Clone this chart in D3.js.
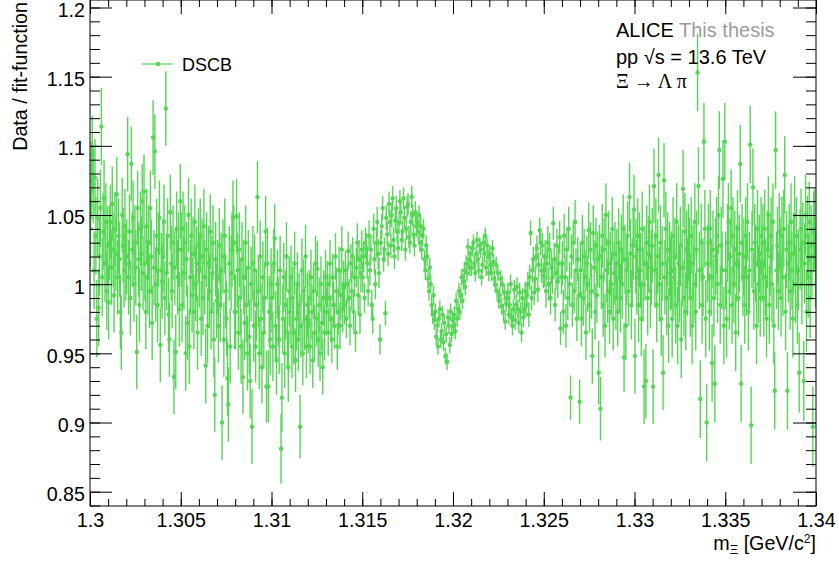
<!DOCTYPE html>
<html>
<head>
<meta charset="utf-8">
<script src="https://cdn.jsdelivr.net/npm/d3@7"></script>
<style>
  body { margin: 0; background: #fff; }
  text { font-family: "Liberation Sans", Arial, Helvetica, sans-serif; }
</style>
</head>
<body>
<svg id="chart" width="839" height="562"></svg>
<script>
// mass window of the ratio histogram
var massRange = [1.300, 1.340];

// data / fit ratio per bin, stored as (ratio - 1) in permille, one row = 1 MeV (20 bins)
var ratioPermille = [
  40, 75, 94, 72, 10, 77, 35, -25, 48, -17, 20, 55, 114, 5, 38, 62, 15, 45, -5, 28,
  -13, 30, 45, 12, 58, 25, -8, 40, 22, 65, 5, 35, 18, -20, -35, 50, 28, 10, 42, 15,
  20, 94, 5, 38, -10, 87, 25, 48, 0, 30, 12, -49, 55, 18, -15, 40, 22, 60, 8, 67,
  15, -20, 42, 5, 30, -5, 55, 20, -28, 106, 12, 96, 0, 35, -15, 25, 48, -44, 10, 2,
  20, 45, -10, 127, 8, 35, -22, -40, 52, 15, -5, 30, -67, 12, -49, 40, 5, 25, -18, 60,
  25, -15, 40, 8, 30, -50, 18, -28, 50, -45, 5, 35, -8, 22, -20, 45, 0, 15, -35, 28,
  10, 35, -25, 20, -10, 42, 5, -59, 25, -30, 15, -5, 38, -20, 8, 30, -40, -80, 18, -12,
  5, -30, 28, -15, 10, -100, 20, -40, 35, -5, -25, -68, -87, 15, -45, 8, 25, 48, 30, -20,
  -20, 49, 10, -35, 25, -10, -45, 18, -67, 5, -28, 30, -15, -50, 12, -38, -70, 0, -103, 15,
  -30, 10, -45, -15, 63, -5, -50, 20, -25, -60, 5, -35, -10, 38, -74, 15, -74, -20, -40, 0,
  -10, -45, 15, 33, -30, -55, 0, -20, -40, 10, -119, -82, -25, 5, -50, -15, 20, -35, -60, -5,
  -20, 5, -45, -10, -35, 15, -55, -25, 0, -40, -15, -103, -30, 10, -50, -5, -25, 20, -45, -15,
  -30, -10, -45, 5, -20, -55, -5, -35, 15, -25, 11, -40, -15, -50, 0, -28, -60, -10, -35, 5,
  -20, 0, -35, -10, 15, -25, -40, 5, -15, -30, 20, -5, -45, -20, 10, -30, -8, 25, -18, 0,
  -15, 10, -25, 0, 24, -10, -30, 15, -5, 20, -20, 5, -35, 12, 30, -8, 18, -22, 8, 25,
  5, 20, -10, 30, 26, 15, -5, 35, 10, 25, -15, -25, 40, 18, 0, 30, 45, 22, 8, -40,
  30, 42, 55, 18, 25, -21, 48, 36, 22, 58, 45, 28, 50, 62, 32, 20, 46, 55, 38, 26,
  44, 60, 52, 32, 38, 62, 48, 25, 40, 56, 58, 34, 30, 45, 63, 50, 36, 28, 52, 42,
  45, 38, 50, 30, 42, 25, 35, 40, 18, 10, 28, 20, 4, -5, 12, 0, -15, -22, -8, -26,
  -20, -38, -30, -45, -25, -18, -40, -34, -22, -42, -28, -52, -36, -56, -24, -30, -44, -20, -36, -26,
  -30, -22, -34, -12, -25, -18, -5, -20, -8, 5, -12, 2, 10, -2, 15, 8, 27, 18, 12, 22,
  12, 26, 30, 15, 8, 22, 32, 18, 10, 28, 25, 5, 14, 30, 22, 35, 12, 28, 20, 8,
  22, 14, 8, 26, 16, 4, 0, 14, -5, 8, -12, -8, 4, -16, 0, -20, -6, -27, -14, -10,
  -6, -22, -15, 0, -24, -30, -18, -4, -26, -15, -2, -18, -28, -6, -20, -35, -10, -24, -18, -5,
  -15, -8, 0, -22, 5, 37, -10, 10, 18, -6, 4, 20, 26, -4, 14, 39, 30, 10, 28, 6,
  10, 20, -5, 15, 30, 0, 25, -10, 12, 5, 44, 18, -15, 8, 28, 2, 15, 34, -32, 5,
  15, -20, 35, 5, -30, 25, -10, 40, 0, -82, 20, -15, 30, -5, 45, 10, -25, 18, -8, -85,
  10, -25, 30, -10, 20, 5, -35, 15, 0, 39, -15, 25, -5, -52, 37, 12, -20, 28, -8, 18,
  -64, 20, -90, 5, 35, -15, 25, -30, 50, 10, -5, 30, -20, 15, 0, 40, -25, 8, 22, -10,
  15, -20, 30, 5, -10, 25, 0, 40, -53, 18, -30, 10, 35, -5, 63, 22, -15, 8, 28, 54,
  -52, 20, 5, 35, -15, 25, 10, -25, 40, 0, -74, 15, -70, 30, -10, 22, 45, -5, 12, 28,
  -74, 71, 10, 35, -15, 20, 79, 0, 30, -25, 15, -64, 75, 5, 40, -10, 25, -30, 18, 8,
  10, -25, 35, 5, 20, -15, 45, -30, 15, 0, 28, -40, 12, 69, -10, 38, -20, 25, 5, 30,
  20, -10, 35, -30, 15, 0, 45, -20, 25, 153, 71, 10, -83, 30, -15, 5, 103, 40, -25, -100,
  15, 30, -20, 40, 5, -57, 25, -10, -72, 20, 35, 0, 50, 97, -15, 28, 10, 76, -30, 103,
  10, -25, 30, 45, -5, 20, 55, -15, 35, 0, 25, -35, 15, 40, -10, 22, 87, -72, 30, 5,
  20, -15, 35, 5, 45, -20, 10, 101, -102, 25, 70, -5, 30, 15, -30, 40, 0, 22, -10, 35,
  15, 30, -10, 40, 5, -25, 25, 50, -15, 20, 35, 0, 45, -30, -77, 97, 10, 28, -5, 38,
  20, -10, 35, 5, 40, 79, -20, 25, -77, 15, 30, -5, 45, 10, -25, 22, 50, 0, 35, -15,
  10, -64, 25, 40, 0, 30, -70, 15, 50, -20, 35, 5, 45, -10, 28, 20, -103, 38, 40, 12
];

// statistical error (permille) for each 1 MeV slice
var errorPermille = [28, 27, 27, 27, 27, 27, 27, 27, 27, 26, 25, 23, 20, 17, 14, 11, 9, 8, 7, 6,
                     6, 6, 6, 7, 9, 12, 16, 20, 23, 25, 27, 27, 28, 28, 28, 28, 28, 28, 28, 29];

var xTicks = [1.3, 1.305, 1.31, 1.315, 1.32, 1.325, 1.33, 1.335, 1.34];
var xTickLabels = ["1.3", "1.305", "1.31", "1.315", "1.32", "1.325", "1.33", "1.335", "1.34"];
var yTicks = [0.85, 0.9, 0.95, 1, 1.05, 1.1, 1.15, 1.2];
var yTickLabels = ["0.85", "0.9", "0.95", "1", "1.05", "1.1", "1.15", "1.2"];

var green = "#55d655";

var svg = d3.select("#chart");
svg.append("rect").attr("width", 839).attr("height", 562).attr("fill", "#fff");

var frame = {left: 90, right: 816, top: 0, bottom: 506};

var x = d3.scaleLinear().domain(massRange).range([frame.left, frame.right]);
var y = d3.scaleLinear().domain([0.85, 1.2]).range([491.7, 7.5]);

var nBins = ratioPermille.length;
var binW = (massRange[1] - massRange[0]) / nBins;
var perSlice = nBins / errorPermille.length;

var points = ratioPermille.map(function (d, i) {
    return {
        m: massRange[0] + (i + 0.5) * binW,
        v: 1 + d / 1000,
        e: errorPermille[Math.floor(i / perSlice)] / 1000
    };
});

svg.append("clipPath").attr("id", "clip")
    .append("rect")
    .attr("x", frame.left).attr("y", frame.top)
    .attr("width", frame.right - frame.left)
    .attr("height", frame.bottom - frame.top);

var plot = svg.append("g").attr("clip-path", "url(#clip)");

// error bars first, markers on top
plot.selectAll("line.err")
    .data(points)
    .enter().append("line")
    .attr("class", "err")
    .attr("x1", function (d) { return x(d.m); })
    .attr("x2", function (d) { return x(d.m); })
    .attr("y1", function (d) { return y(d.v - d.e); })
    .attr("y2", function (d) { return y(d.v + d.e); })
    .attr("stroke", green)
    .attr("stroke-width", 1.4);

plot.selectAll("circle")
    .data(points)
    .enter().append("circle")
    .attr("cx", function (d) { return x(d.m); })
    .attr("cy", function (d) { return y(d.v); })
    .attr("r", 2.2)
    .attr("fill", green);

/* axes */
var xMinor = d3.range(1.300, 1.3405, 0.001);
var yMinor = d3.range(0.84, 1.2055, 0.01);
var labelSize = "19.7px";

function styleAxis(g) {
    g.select(".domain").remove();
    g.selectAll("line").attr("stroke", "#000").attr("stroke-width", 1);
}

svg.append("g")
    .attr("transform", "translate(0," + frame.bottom + ")")
    .call(d3.axisBottom(x).tickValues(xMinor).tickSize(-7).tickFormat(""))
    .call(styleAxis);

svg.append("g")
    .attr("transform", "translate(0," + frame.bottom + ")")
    .call(d3.axisBottom(x).tickValues(xTicks).tickSizeInner(-14).tickSizeOuter(0).tickPadding(7)
        .tickFormat(function (d, i) { return xTickLabels[i]; }))
    .call(styleAxis)
    .selectAll("text")
    .attr("fill", "#000")
    .style("font-size", labelSize);

svg.append("g")
    .attr("transform", "translate(0," + frame.top + ")")
    .call(d3.axisTop(x).tickValues(xMinor).tickSize(-7).tickFormat(""))
    .call(styleAxis);

svg.append("g")
    .attr("transform", "translate(0," + frame.top + ")")
    .call(d3.axisTop(x).tickValues(xTicks).tickSize(-14).tickFormat(""))
    .call(styleAxis);

svg.append("g")
    .attr("transform", "translate(" + frame.left + ",0)")
    .call(d3.axisLeft(y).tickValues(yMinor.filter(function (v) { return y(v) <= frame.bottom; }))
        .tickSize(-10).tickFormat(""))
    .call(styleAxis);

svg.append("g")
    .attr("transform", "translate(" + frame.left + ",0)")
    .call(d3.axisLeft(y).tickValues(yTicks).tickSizeInner(-22).tickSizeOuter(0).tickPadding(5)
        .tickFormat(function (d, i) { return yTickLabels[i]; }))
    .call(styleAxis)
    .selectAll("text")
    .attr("fill", "#000")
    .attr("dy", "0.45em")
    .style("font-size", labelSize);

svg.append("g")
    .attr("transform", "translate(" + frame.right + ",0)")
    .call(d3.axisRight(y).tickValues(yMinor.filter(function (v) { return y(v) <= frame.bottom; }))
        .tickSize(-10).tickFormat(""))
    .call(styleAxis);

svg.append("g")
    .attr("transform", "translate(" + frame.right + ",0)")
    .call(d3.axisRight(y).tickValues(yTicks).tickSize(-23).tickFormat(""))
    .call(styleAxis);

svg.append("rect")
    .attr("x", frame.left).attr("y", frame.top)
    .attr("width", frame.right - frame.left)
    .attr("height", frame.bottom - frame.top)
    .attr("fill", "none")
    .attr("stroke", "#000")
    .attr("stroke-width", 1);

/* titles */
svg.append("text")
    .attr("transform", "translate(27,2) rotate(-90)")
    .attr("text-anchor", "end")
    .style("font-size", labelSize)
    .text("Data / fit-function");

var xt = svg.append("text")
    .attr("x", frame.right).attr("y", 550)
    .attr("text-anchor", "end")
    .style("font-size", labelSize);
xt.append("tspan").text("m");
xt.append("tspan").attr("dy", 4).style("font-size", "13px").text("Ξ");
xt.append("tspan").attr("dy", -4).text(" [GeV/c");
xt.append("tspan").attr("dy", -7).style("font-size", "12px").text("2");
xt.append("tspan").attr("dy", 7).text("]");

/* legend */
var leg = svg.append("g");
leg.append("line")
    .attr("x1", 142).attr("x2", 173).attr("y1", 64).attr("y2", 64)
    .attr("stroke", green).attr("stroke-width", 1.2);
leg.append("circle").attr("cx", 158).attr("cy", 64).attr("r", 2.2).attr("fill", green);
leg.append("text").attr("x", 182).attr("y", 71).style("font-size", "18px").text("DSCB");

/* ALICE label */
var l1 = svg.append("text").attr("x", 616).attr("y", 37).style("font-size", "20px");
l1.append("tspan").attr("fill", "#000").text("ALICE ");
l1.append("tspan").attr("fill", "#9c9c9c").text("This thesis");

svg.append("text").attr("x", 616).attr("y", 64).style("font-size", "20px")
    .text("pp  \u221As = 13.6 TeV");

svg.append("text").attr("x", 616).attr("y", 88)
    .style("font-size", "20px")
    .style("font-family", "'Liberation Serif', 'Times New Roman', serif")
    .text("Ξ \u2192 Λ π");
</script>
</body>
</html>
